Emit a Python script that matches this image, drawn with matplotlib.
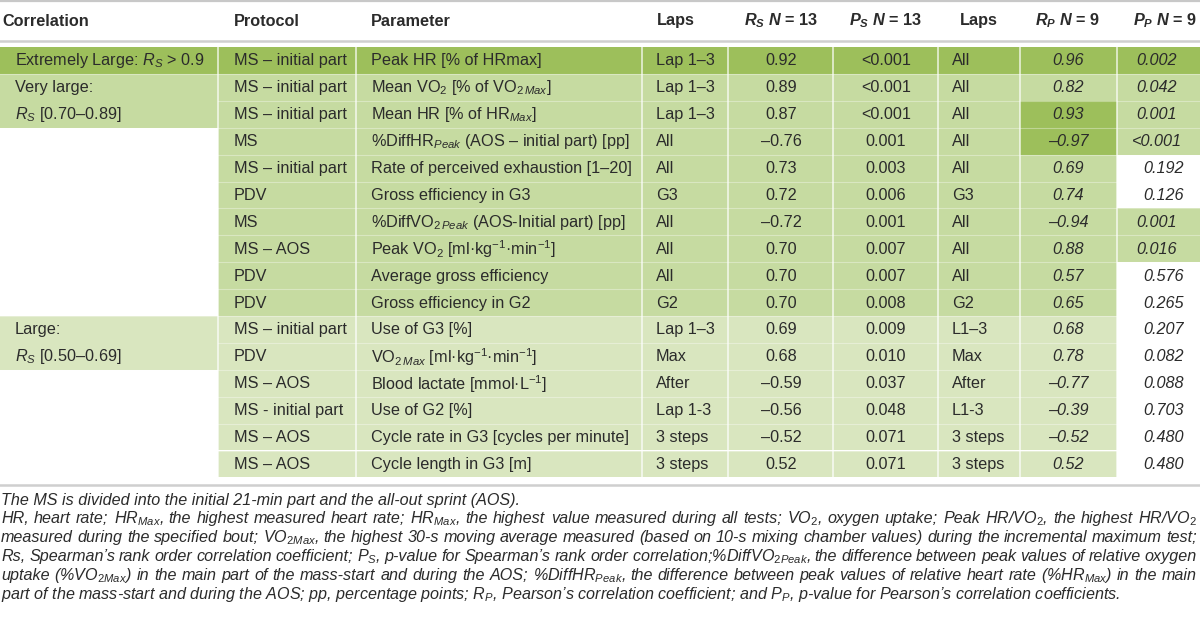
import matplotlib
matplotlib.use('Agg')
import matplotlib.pyplot as plt
from matplotlib.patches import Rectangle

plt.rcParams['font.family'] = ['Liberation Sans', 'DejaVu Sans']
plt.rcParams['mathtext.fontset'] = 'custom'
plt.rcParams['mathtext.rm'] = 'Liberation Sans'
plt.rcParams['mathtext.it'] = 'Liberation Sans:italic'
plt.rcParams['mathtext.bf'] = 'Liberation Sans:bold'
plt.rcParams['mathtext.bfit'] = 'Liberation Sans:italic:bold'

# ---------------- data ----------------
headers = ['Correlation', 'Protocol', 'Parameter', 'Laps',
           r'$\mathbfit{R_S}$ $\mathbfit{N}$ = 13', r'$\mathbfit{P_S}$ $\mathbfit{N}$ = 13',
           'Laps', r'$\mathbfit{R_P}$ $\mathbfit{N}$ = 9', r'$\mathbfit{P_P}$ $\mathbfit{N}$ = 9']

correlation = ['Extremely Large: $R_S$ > 0.9', 'Very large:', '$R_S$ [0.70–0.89]',
               '', '', '', '', '', '', '',
               'Large:', '$R_S$ [0.50–0.69]', '', '', '', '']
corr_class = ['xl', 'vl', 'vl', '', '', '', '', '', '', '', 'l', 'l', '', '', '', '']
corr_merged_with_next = [False, True, False, False, False, False, False, False, False, False,
                         True, False, False, False, False, False]
row_class = ['xl'] + ['vl'] * 9 + ['l'] * 6

protocols = ['MS – initial part', 'MS – initial part', 'MS – initial part', 'MS',
             'MS – initial part', 'PDV', 'MS', 'MS – AOS', 'PDV', 'PDV',
             'MS – initial part', 'PDV', 'MS – AOS', 'MS - initial part', 'MS – AOS', 'MS – AOS']

parameters = ['Peak HR [% of HRmax]',
              r'Mean VO$_2$ [% of VO$_{2\,Max}$]',
              r'Mean HR [% of HR$_{Max}$]',
              r'%DiffHR$_{Peak}$ (AOS – initial part) [pp]',
              'Rate of perceived exhaustion [1–20]',
              'Gross efficiency in G3',
              r'%DiffVO$_{2\,Peak}$ (AOS-Initial part) [pp]',
              r'Peak VO$_2$ [ml·kg$^{-1}$·min$^{-1}$]',
              'Average gross efficiency',
              'Gross efficiency in G2',
              'Use of G3 [%]',
              r'VO$_{2\,Max}$ [ml·kg$^{-1}$·min$^{-1}$]',
              r'Blood lactate [mmol·L$^{-1}$]',
              'Use of G2 [%]',
              'Cycle rate in G3 [cycles per minute]',
              'Cycle length in G3 [m]']

laps_s = ['Lap 1–3', 'Lap 1–3', 'Lap 1–3', 'All', 'All', 'G3', 'All', 'All', 'All', 'G2',
          'Lap 1–3', 'Max', 'After', 'Lap 1-3', '3 steps', '3 steps']
rs = [0.92, 0.89, 0.87, -0.76, 0.73, 0.72, -0.72, 0.70, 0.70, 0.70,
      0.69, 0.68, -0.59, -0.56, -0.52, 0.52]
ps = ['<0.001', '<0.001', '<0.001', '0.001', '0.003', '0.006', '0.001', '0.007', '0.007', '0.008',
      '0.009', '0.010', '0.037', '0.048', '0.071', '0.071']
laps_p = ['All', 'All', 'All', 'All', 'All', 'G3', 'All', 'All', 'All', 'G2',
          'L1–3', 'Max', 'After', 'L1-3', '3 steps', '3 steps']
rp = [0.96, 0.82, 0.93, -0.97, 0.69, 0.74, -0.94, 0.88, 0.57, 0.65,
      0.68, 0.78, -0.77, -0.39, -0.52, 0.52]
pp = ['0.002', '0.042', '0.001', '<0.001', '0.192', '0.126', '0.001', '0.016', '0.576', '0.265',
      '0.207', '0.082', '0.088', '0.703', '0.480', '0.480']
rp_highlight = [False, False, True, True] + [False] * 12

footnotes = [
    "The MS is divided into the initial 21-min part and the all-out sprint (AOS).",
    "HR, heart rate; HR$_{Max}$, the highest measured heart rate; HR$_{Max}$, the highest value measured during all tests; VO$_2$, oxygen uptake; Peak HR/VO$_2$, the highest HR/VO$_2$",
    "measured during the specified bout; VO$_{2Max}$, the highest 30-s moving average measured (based on 10-s mixing chamber values) during the incremental maximum test;",
    "Rs, Spearman’s rank order correlation coefficient; P$_S$, p-value for Spearman’s rank order correlation;%DiffVO$_{2Peak}$, the difference between peak values of relative oxygen",
    "uptake (%VO$_{2Max}$) in the main part of the mass-start and during the AOS; %DiffHR$_{Peak}$, the difference between peak values of relative heart rate (%HR$_{Max}$) in the main",
    "part of the mass-start and during the AOS; pp, percentage points; R$_P$, Pearson’s correlation coefficient; and P$_P$, p-value for Pearson’s correlation coefficients.",
]
justify = [False, True, True, True, True, False]

# ---------------- style / layout ----------------
colors = {'xl': '#9dbf5b', 'vl': '#c6dba1', 'l': '#d9e6bf', '': 'white'}
txt_color = '#2b2b2b'
W, H = 1200, 617
col_edges = [0, 218, 356, 642, 728, 833, 938, 1020, 1117, 1200]
row_top = 47.0
row_h = 26.9
fs = 11.7
fs_note = 11.6


def fmt(v):
    s = f'{abs(v):.2f}'
    return ('\u2013' + s) if v < 0 else s


def pval(s):
    return float(s.replace('<', ''))


fig = plt.figure(figsize=(W / 100, H / 100), dpi=100)
ax = fig.add_axes([0, 0, 1, 1])
ax.set_xlim(0, W)
ax.set_ylim(H, 0)
ax.axis('off')

n = len(protocols)

# cell backgrounds
for i in range(n):
    y0 = row_top + i * row_h
    cell_cols = [colors[corr_class[i]]]
    rc = colors[row_class[i]]
    cell_cols += [rc] * 6
    cell_cols.append(colors['xl'] if rp_highlight[i] else rc)
    cell_cols.append(rc if pval(pp[i]) < 0.05 else 'white')
    for j, c in enumerate(cell_cols):
        x0 = col_edges[j]
        ax.add_patch(Rectangle((x0, y0), col_edges[j + 1] - x0, row_h,
                               facecolor=c, edgecolor='none', zorder=1))

# cell separators
for i in range(1, n):
    y = row_top + i * row_h
    x_start = col_edges[1] if corr_merged_with_next[i - 1] else 0
    ax.plot([x_start, W], [y, y], color='white', alpha=0.35, lw=0.8, zorder=2)
for x in col_edges[1:-1]:
    ax.plot([x, x], [row_top, row_top + n * row_h], color='white', alpha=0.75, lw=1.2, zorder=2)

# rules
ax.plot([0, W], [0.8, 0.8], color='#c8c8c8', lw=1.6, zorder=3)
ax.plot([0, W], [40.5, 40.5], color='#cfcfcf', lw=1.8, zorder=3)
ax.plot([0, W], [484.5, 484.5], color='#cfcfcf', lw=1.8, zorder=3)

# header
hy = 21
hdr_pos = [(2, 'left'), (234, 'left'), (371, 'left'), (657, 'left'),
           (781, 'center'), (886, 'center'), (960, 'left'), (1068, 'center'), (1165, 'center')]
for (x, ha), h in zip(hdr_pos, headers):
    ax.text(x, hy, h, ha=ha, va='center', fontsize=fs, fontweight='bold', color=txt_color, zorder=4)

# body
for i in range(n):
    yc = row_top + (i + 0.5) * row_h + 0.5
    kw = dict(va='center', fontsize=fs, color=txt_color, zorder=4)
    ax.text(15, yc, correlation[i], ha='left', **kw)
    ax.text(234, yc, protocols[i], ha='left', **kw)
    ax.text(371, yc, parameters[i], ha='left', **kw)
    ax.text(656, yc, laps_s[i], ha='left', **kw)
    ax.text(781, yc, fmt(rs[i]), ha='center', **kw)
    ax.text(886, yc, ps[i], ha='center', **kw)
    ax.text(952, yc, laps_p[i], ha='left', **kw)
    ax.text(1068, yc, fmt(rp[i]), ha='center', style='italic', **kw)
    px = 1157 if pval(pp[i]) < 0.05 else 1164
    ax.text(px, yc, pp[i], ha='center', style='italic', **kw)

# footnotes
fig.canvas.draw()
renderer = fig.canvas.get_renderer()
note_y0 = 500
note_dy = 18.9
for k, line in enumerate(footnotes):
    y = note_y0 + k * note_dy
    kw = dict(va='center', ha='left', fontsize=fs_note, style='italic', color=txt_color, zorder=4)
    if not justify[k]:
        ax.text(1, y, line, **kw)
        continue
    words = line.split(' ')
    objs = [ax.text(0, y, w, **kw) for w in words]
    widths = [o.get_window_extent(renderer=renderer).width for o in objs]
    gap = (1197 - 1 - sum(widths)) / (len(words) - 1)
    x = 1
    for o, w in zip(objs, widths):
        o.set_x(x)
        x += w + gap

fig.savefig('out.png', dpi=100)
